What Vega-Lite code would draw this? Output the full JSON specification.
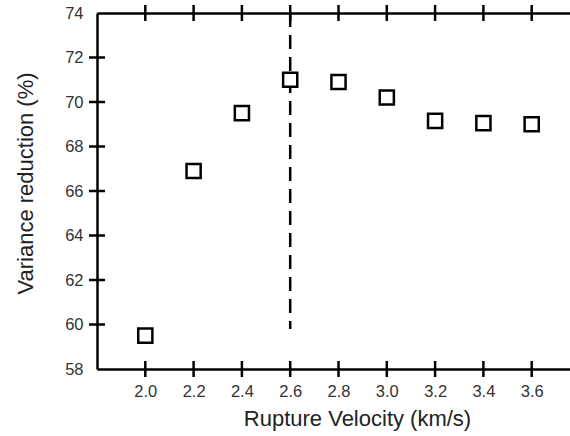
{
  "$schema": "https://vega.github.io/schema/vega-lite/v6.json",
  "width": 483,
  "height": 356,
  "autosize": "none",
  "padding": {"left": 97, "top": 13, "right": 0, "bottom": 67},
  "background": "white",
  "config": {
    "view": {"stroke": null},
    "axis": {"grid": false, "domain": true, "domainColor": "#000000", "domainWidth": 2.5, "ticks": false, "tickSize": 0, "labelFont": "Liberation Sans", "titleFont": "Liberation Sans", "labelColor": "#333333", "titleColor": "#222222", "labelFontSize": 16.5, "titleFontSize": 22, "titleFontWeight": "normal"}
  },
  "datasets": {
    "points": [
      {"v": 2.0, "vr": 59.5},
      {"v": 2.2, "vr": 66.9},
      {"v": 2.4, "vr": 69.5},
      {"v": 2.6, "vr": 71.0},
      {"v": 2.8, "vr": 70.9},
      {"v": 3.0, "vr": 70.2},
      {"v": 3.2, "vr": 69.15},
      {"v": 3.4, "vr": 69.05},
      {"v": 3.6, "vr": 69.0}
    ],
    "marker": [{"v": 2.6, "top": 74, "bottom": 59.8}],
    "xticks": [{"v": 2.0}, {"v": 2.2}, {"v": 2.4}, {"v": 2.6}, {"v": 2.8}, {"v": 3.0}, {"v": 3.2}, {"v": 3.4}, {"v": 3.6}],
    "yticks": [{"vr": 60}, {"vr": 62}, {"vr": 64}, {"vr": 66}, {"vr": 68}, {"vr": 70}, {"vr": 72}]
  },
  "layer": [
    {
      "data": {"name": "marker"},
      "mark": {"type": "rule", "stroke": "black", "strokeWidth": 2.5, "strokeDash": [14, 8]},
      "encoding": {
        "x": {"field": "v", "type": "quantitative", "scale": {"domain": [1.8, 3.8], "nice": false, "zero": false},
          "axis": {"orient": "top", "values": [2.0, 2.2, 2.4, 2.6, 2.8, 3.0, 3.2, 3.4, 3.6], "labels": false, "title": null}},
        "y": {"field": "top", "type": "quantitative", "scale": {"domain": [58, 74], "nice": false, "zero": false},
          "axis": {"values": [58, 60, 62, 64, 66, 68, 70, 72, 74], "labelPadding": 14, "title": "Variance reduction (%)", "titleX": -72, "titleY": 170, "titleAlign": "center", "titleBaseline": "middle", "titleAngle": -90}},
        "y2": {"field": "bottom"}
      }
    },
    {
      "data": {"name": "xticks"},
      "mark": {"type": "tick", "orient": "vertical", "color": "#000000", "thickness": 2.5, "size": 16, "opacity": 1},
      "encoding": {
        "x": {"field": "v", "type": "quantitative", "axis": null},
        "y": {"datum": 58, "type": "quantitative"}
      }
    },
    {
      "data": {"name": "xticks"},
      "mark": {"type": "tick", "orient": "vertical", "color": "#000000", "thickness": 2.5, "size": 16, "opacity": 1},
      "encoding": {
        "x": {"field": "v", "type": "quantitative", "axis": null},
        "y": {"datum": 74, "type": "quantitative"}
      }
    },
    {
      "data": {"name": "yticks"},
      "mark": {"type": "tick", "orient": "horizontal", "color": "#000000", "thickness": 2.5, "size": 16, "opacity": 1},
      "encoding": {
        "x": {"datum": 1.8, "type": "quantitative", "axis": null},
        "y": {"field": "vr", "type": "quantitative"}
      }
    },
    {
      "data": {"name": "points"},
      "mark": {"type": "square", "filled": false, "stroke": "black", "fill": "white", "strokeWidth": 2.5, "size": 200, "opacity": 1},
      "encoding": {
        "x": {"field": "v", "type": "quantitative", "scale": {"domain": [1.8, 3.8], "nice": false, "zero": false},
          "axis": {"orient": "bottom", "values": [2.0, 2.2, 2.4, 2.6, 2.8, 3.0, 3.2, 3.4, 3.6], "format": ".1f", "labelPadding": 14, "title": "Rupture Velocity (km/s)", "titleX": 260, "titleY": 49, "titleAlign": "center", "titleBaseline": "middle"}},
        "y": {"field": "vr", "type": "quantitative", "scale": {"domain": [58, 74], "nice": false, "zero": false}}
      }
    }
  ],
  "resolve": {"axis": {"x": "independent"}}
}
